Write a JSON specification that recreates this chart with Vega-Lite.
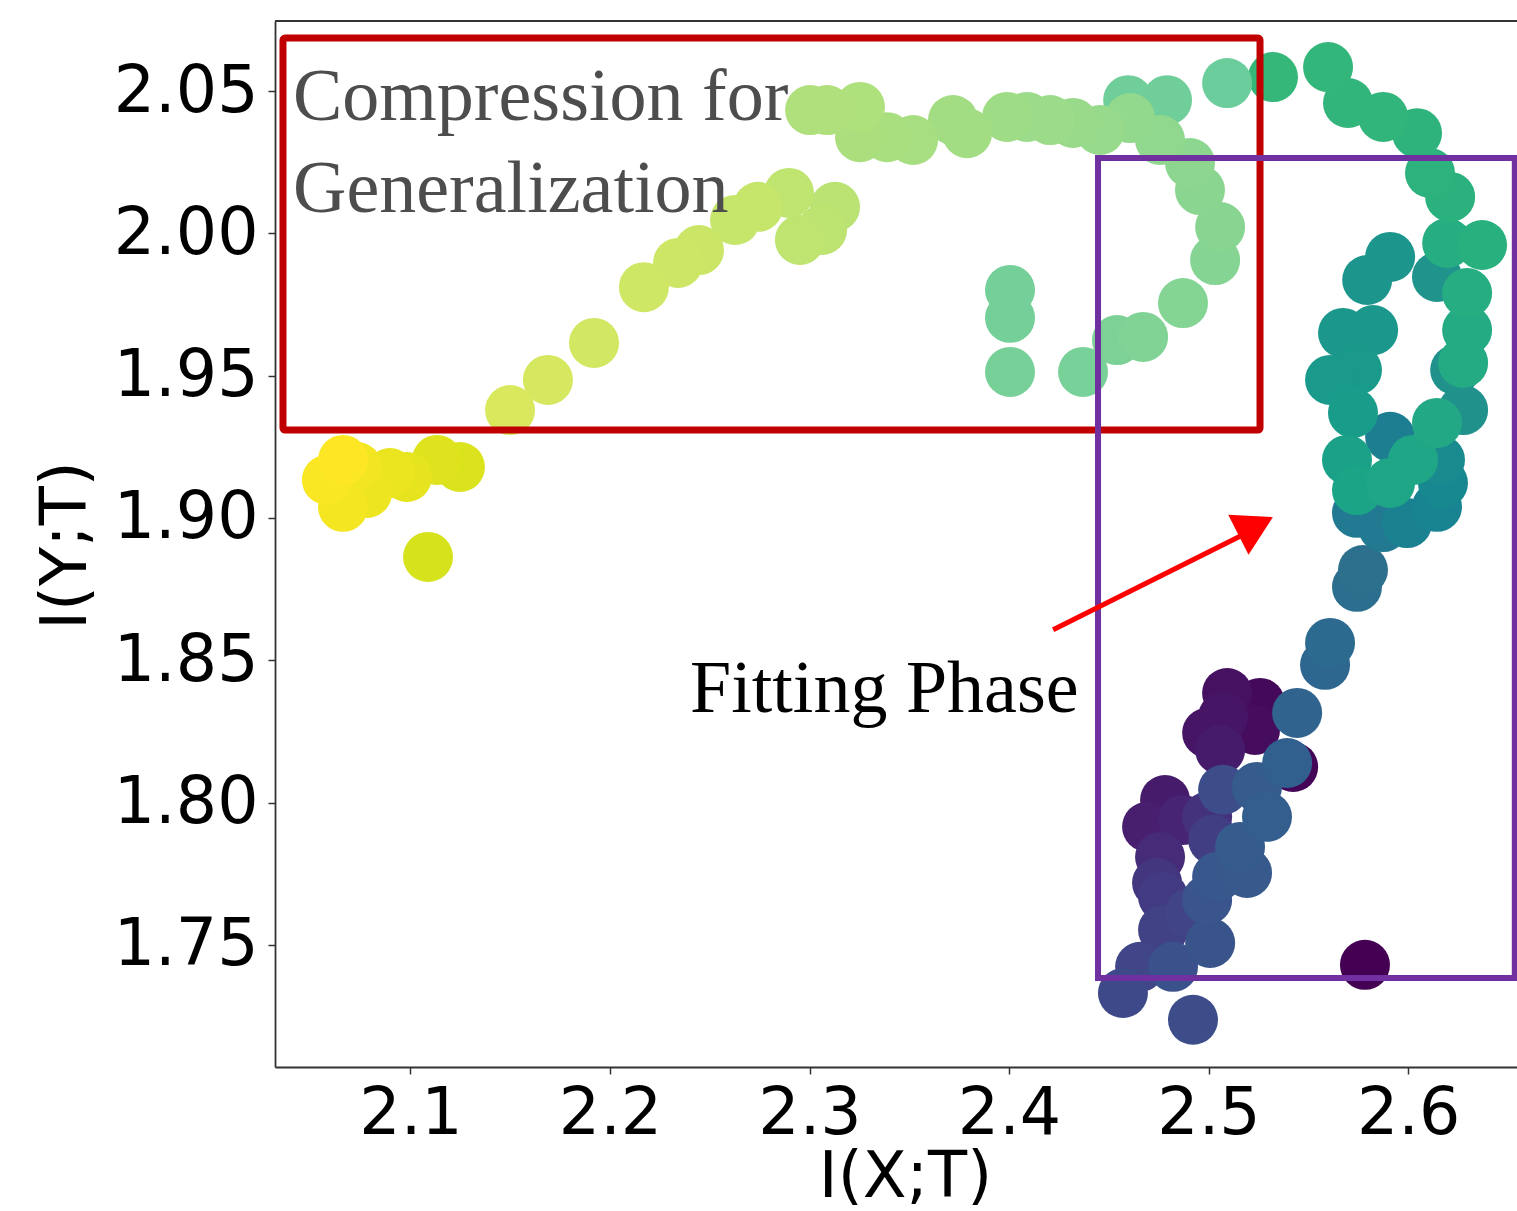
{
  "$schema": "https://vega.github.io/schema/vega-lite/v6.json",
  "width": 1242,
  "height": 1046,
  "autosize": "none",
  "padding": {"left": 275, "top": 21, "right": 0, "bottom": 144},
  "background": "white",
  "config": {
    "view": {"stroke": null},
    "axis": {
      "grid": false,
      "labelFont": "DejaVu Sans",
      "labelFontSize": 65,
      "labelColor": "#000000",
      "titleFont": "DejaVu Sans",
      "titleFontSize": 64,
      "titleFontWeight": "normal",
      "titleColor": "#000000",
      "domainColor": "#333333",
      "domainWidth": 1.8,
      "tickColor": "#333333",
      "tickWidth": 1.5,
      "tickSize": 7
    }
  },
  "layer": [
    {
      "data": {"values": [
        {"x": 2.5784, "y": 1.7430, "t": 0.00},
        {"x": 2.5424, "y": 1.8125, "t": 0.01},
        {"x": 2.5258, "y": 1.8350, "t": 0.02},
        {"x": 2.5233, "y": 1.8255, "t": 0.03},
        {"x": 2.5093, "y": 1.8385, "t": 0.04},
        {"x": 2.5073, "y": 1.8301, "t": 0.05},
        {"x": 2.4993, "y": 1.8245, "t": 0.05},
        {"x": 2.5058, "y": 1.8185, "t": 0.07},
        {"x": 2.4782, "y": 1.8009, "t": 0.07},
        {"x": 2.4692, "y": 1.7915, "t": 0.08},
        {"x": 2.4872, "y": 1.7939, "t": 0.10},
        {"x": 2.4757, "y": 1.7809, "t": 0.12},
        {"x": 2.4993, "y": 1.7950, "t": 0.14},
        {"x": 2.4742, "y": 1.7718, "t": 0.15},
        {"x": 2.4772, "y": 1.7669, "t": 0.17},
        {"x": 2.5023, "y": 1.7869, "t": 0.18},
        {"x": 2.4772, "y": 1.7553, "t": 0.19},
        {"x": 2.4907, "y": 1.7613, "t": 0.20},
        {"x": 2.4657, "y": 1.7423, "t": 0.21},
        {"x": 2.4571, "y": 1.7331, "t": 0.22},
        {"x": 2.4922, "y": 1.7237, "t": 0.24},
        {"x": 2.5073, "y": 1.8045, "t": 0.24},
        {"x": 2.4822, "y": 1.7423, "t": 0.26},
        {"x": 2.5008, "y": 1.7507, "t": 0.27},
        {"x": 2.4993, "y": 1.7658, "t": 0.28},
        {"x": 2.5043, "y": 1.7739, "t": 0.29},
        {"x": 2.5193, "y": 1.7753, "t": 0.30},
        {"x": 2.5158, "y": 1.7844, "t": 0.31},
        {"x": 2.5243, "y": 1.8055, "t": 0.31},
        {"x": 2.5293, "y": 1.7950, "t": 0.32},
        {"x": 2.5394, "y": 1.8139, "t": 0.33},
        {"x": 2.5444, "y": 1.8315, "t": 0.34},
        {"x": 2.5584, "y": 1.8484, "t": 0.36},
        {"x": 2.5609, "y": 1.8561, "t": 0.37},
        {"x": 2.5744, "y": 1.8758, "t": 0.39},
        {"x": 2.5774, "y": 1.8817, "t": 0.40},
        {"x": 2.5744, "y": 1.9018, "t": 0.43},
        {"x": 2.5875, "y": 1.8968, "t": 0.43},
        {"x": 2.5910, "y": 1.9285, "t": 0.44},
        {"x": 2.5995, "y": 1.8982, "t": 0.45},
        {"x": 2.6145, "y": 1.9039, "t": 0.46},
        {"x": 2.6175, "y": 1.9123, "t": 0.47},
        {"x": 2.6160, "y": 1.9204, "t": 0.48},
        {"x": 2.6276, "y": 1.9379, "t": 0.50},
        {"x": 2.6236, "y": 1.9520, "t": 0.50},
        {"x": 2.6145, "y": 1.9847, "t": 0.51},
        {"x": 2.5910, "y": 1.9917, "t": 0.52},
        {"x": 2.5795, "y": 1.9836, "t": 0.52},
        {"x": 2.5674, "y": 1.9650, "t": 0.53},
        {"x": 2.5825, "y": 1.9660, "t": 0.53},
        {"x": 2.5744, "y": 1.9520, "t": 0.54},
        {"x": 2.5609, "y": 1.9485, "t": 0.54},
        {"x": 2.5724, "y": 1.9369, "t": 0.55},
        {"x": 2.5694, "y": 1.9204, "t": 0.57},
        {"x": 2.5744, "y": 1.9098, "t": 0.58},
        {"x": 2.5910, "y": 1.9123, "t": 0.59},
        {"x": 2.6025, "y": 1.9204, "t": 0.59},
        {"x": 2.6145, "y": 1.9334, "t": 0.60},
        {"x": 2.6276, "y": 1.9545, "t": 0.61},
        {"x": 2.6296, "y": 1.9660, "t": 0.61},
        {"x": 2.6296, "y": 1.9790, "t": 0.62},
        {"x": 2.6196, "y": 1.9966, "t": 0.62},
        {"x": 2.6371, "y": 1.9959, "t": 0.63},
        {"x": 2.6211, "y": 2.0128, "t": 0.635},
        {"x": 2.6110, "y": 2.0212, "t": 0.64},
        {"x": 2.6045, "y": 2.0352, "t": 0.645},
        {"x": 2.5875, "y": 2.0409, "t": 0.65},
        {"x": 2.5699, "y": 2.0458, "t": 0.652},
        {"x": 2.5599, "y": 2.0584, "t": 0.655},
        {"x": 2.5323, "y": 2.0549, "t": 0.66},
        {"x": 2.5093, "y": 2.0528, "t": 0.68},
        {"x": 2.4792, "y": 2.0468, "t": 0.69},
        {"x": 2.4597, "y": 2.0468, "t": 0.69},
        {"x": 2.4005, "y": 1.9801, "t": 0.70},
        {"x": 2.4005, "y": 1.9703, "t": 0.70},
        {"x": 2.4005, "y": 1.9513, "t": 0.705},
        {"x": 2.4371, "y": 1.9513, "t": 0.71},
        {"x": 2.4541, "y": 1.9625, "t": 0.72},
        {"x": 2.4672, "y": 1.9636, "t": 0.73},
        {"x": 2.4872, "y": 1.9755, "t": 0.74},
        {"x": 2.5033, "y": 1.9906, "t": 0.745},
        {"x": 2.5058, "y": 2.0022, "t": 0.75},
        {"x": 2.4957, "y": 2.0152, "t": 0.755},
        {"x": 2.4907, "y": 2.0247, "t": 0.76},
        {"x": 2.4757, "y": 2.0328, "t": 0.77},
        {"x": 2.4607, "y": 2.0405, "t": 0.78},
        {"x": 2.4456, "y": 2.0363, "t": 0.79},
        {"x": 2.4321, "y": 2.0388, "t": 0.795},
        {"x": 2.4206, "y": 2.0398, "t": 0.80},
        {"x": 2.4090, "y": 2.0409, "t": 0.80},
        {"x": 2.3990, "y": 2.0409, "t": 0.81},
        {"x": 2.3790, "y": 2.0352, "t": 0.82},
        {"x": 2.3719, "y": 2.0398, "t": 0.82},
        {"x": 2.3519, "y": 2.0328, "t": 0.83},
        {"x": 2.3389, "y": 2.0338, "t": 0.835},
        {"x": 2.3253, "y": 2.0338, "t": 0.84},
        {"x": 2.3253, "y": 2.0444, "t": 0.845},
        {"x": 2.3088, "y": 2.0433, "t": 0.85},
        {"x": 2.3003, "y": 2.0433, "t": 0.85},
        {"x": 2.3128, "y": 2.0093, "t": 0.87},
        {"x": 2.3063, "y": 2.0012, "t": 0.875},
        {"x": 2.2952, "y": 1.9977, "t": 0.88},
        {"x": 2.2897, "y": 2.0142, "t": 0.88},
        {"x": 2.2742, "y": 2.0093, "t": 0.89},
        {"x": 2.2627, "y": 2.0047, "t": 0.89},
        {"x": 2.2446, "y": 1.9941, "t": 0.90},
        {"x": 2.2341, "y": 1.9896, "t": 0.905},
        {"x": 2.2170, "y": 1.9811, "t": 0.91},
        {"x": 2.1920, "y": 1.9615, "t": 0.92},
        {"x": 2.1689, "y": 1.9485, "t": 0.93},
        {"x": 2.1499, "y": 1.9379, "t": 0.94},
        {"x": 2.1088, "y": 1.8863, "t": 0.95},
        {"x": 2.1248, "y": 1.9179, "t": 0.955},
        {"x": 2.1133, "y": 1.9204, "t": 0.96},
        {"x": 2.0982, "y": 1.9144, "t": 0.97},
        {"x": 2.0897, "y": 1.9158, "t": 0.975},
        {"x": 2.0782, "y": 1.9088, "t": 0.98},
        {"x": 2.0732, "y": 1.9179, "t": 0.985},
        {"x": 2.0662, "y": 1.9039, "t": 0.99},
        {"x": 2.0581, "y": 1.9134, "t": 0.995},
        {"x": 2.0662, "y": 1.9204, "t": 1.0}
      ]},
      "mark": {"type": "circle", "size": 2500, "opacity": 1, "strokeWidth": 0},
      "encoding": {
        "x": {"field": "x", "type": "quantitative",
              "scale": {"domain": [2.0321, 2.6546], "nice": false, "zero": false},
              "axis": {"values": [2.1, 2.2, 2.3, 2.4, 2.5, 2.6], "format": ".1f", "title": "I(X;T)",
                       "labelBaseline": "alphabetic", "labelPadding": 59, "labelFlush": false,
                       "titleX": 630, "titleY": 129, "titleBaseline": "alphabetic", "titleAlign": "center"}},
        "y": {"field": "y", "type": "quantitative",
              "scale": {"domain": [1.7071, 2.0746], "nice": false, "zero": false},
              "axis": {"values": [1.75, 1.8, 1.85, 1.9, 1.95, 2.0, 2.05], "format": ".2f", "title": "I(Y;T)",
                       "labelPadding": 10, "labelFlush": false,
                       "titleX": -209, "titleY": 524, "titleAngle": -90, "titleBaseline": "middle", "titleAlign": "center"}},
        "color": {"field": "t", "type": "quantitative", "legend": null,
                  "scale": {"domain": [0, 0.1, 0.2, 0.3, 0.4, 0.5, 0.6, 0.66, 0.68, 0.75, 0.8, 0.85, 0.9, 0.94, 0.95, 1],
                            "range": ["#440154", "#482475", "#414487", "#38598c", "#2d708e", "#21918c", "#22a884", "#35b779", "#6ccd9c", "#88d592", "#9bdb89", "#b0e07b", "#cbe667", "#d9e85c", "#d6e21c", "#fde725"]}},
        "order": {"field": "t", "type": "quantitative"}
      }
    },
    {
      "data": {"values": [{"y": 2.0746}]},
      "mark": {"type": "rule", "color": "#333333", "strokeWidth": 1.8},
      "encoding": {
        "y": {"field": "y", "type": "quantitative", "scale": {"domain": [1.7071, 2.0746], "nice": false, "zero": false}}
      }
    },
    {
      "data": {"values": [{"x": 2.0361, "x2": 2.5258, "y": 2.0686, "y2": 1.9309}]},
      "mark": {"type": "rect", "fill": null, "fillOpacity": 0, "stroke": "#c00000", "strokeWidth": 7, "cornerRadius": 2},
      "encoding": {
        "x": {"field": "x", "type": "quantitative", "scale": {"domain": [2.0321, 2.6546], "nice": false, "zero": false}},
        "x2": {"field": "x2"},
        "y": {"field": "y", "type": "quantitative", "scale": {"domain": [1.7071, 2.0746], "nice": false, "zero": false}},
        "y2": {"field": "y2"}
      }
    },
    {
      "data": {"values": [{"x": 2.4446, "x2": 2.6535, "y": 2.0265, "y2": 1.7384}]},
      "mark": {"type": "rect", "fill": null, "fillOpacity": 0, "stroke": "#7030a0", "strokeWidth": 6},
      "encoding": {
        "x": {"field": "x", "type": "quantitative", "scale": {"domain": [2.0321, 2.6546], "nice": false, "zero": false}},
        "x2": {"field": "x2"},
        "y": {"field": "y", "type": "quantitative", "scale": {"domain": [1.7071, 2.0746], "nice": false, "zero": false}},
        "y2": {"field": "y2"}
      }
    },
    {
      "data": {"values": [{"x": 2.4221, "y": 1.8607, "x2": 2.5193, "y2": 1.8948}]},
      "mark": {"type": "rule", "color": "#ff0000", "strokeWidth": 5},
      "encoding": {
        "x": {"field": "x", "type": "quantitative", "scale": {"domain": [2.0321, 2.6546], "nice": false, "zero": false}},
        "x2": {"field": "x2"},
        "y": {"field": "y", "type": "quantitative", "scale": {"domain": [1.7071, 2.0746], "nice": false, "zero": false}},
        "y2": {"field": "y2"}
      }
    },
    {
      "data": {"values": [{"x": 2.5236, "y": 1.8972}]},
      "mark": {"type": "point", "shape": "triangle-up", "filled": true, "color": "#ff0000", "size": 2000, "angle": 63, "opacity": 1},
      "encoding": {
        "x": {"field": "x", "type": "quantitative", "scale": {"domain": [2.0321, 2.6546], "nice": false, "zero": false}},
        "y": {"field": "y", "type": "quantitative", "scale": {"domain": [1.7071, 2.0746], "nice": false, "zero": false}}
      }
    },
    {
      "data": {"values": [
        {"x": 2.0411, "y": 2.0398, "label": "Compression for"},
        {"x": 2.0411, "y": 2.0075, "label": "Generalization"}
      ]},
      "mark": {"type": "text", "font": "Liberation Serif", "fontSize": 74, "color": "#4d4d4d", "align": "left", "baseline": "alphabetic"},
      "encoding": {
        "x": {"field": "x", "type": "quantitative", "scale": {"domain": [2.0321, 2.6546], "nice": false, "zero": false}},
        "y": {"field": "y", "type": "quantitative", "scale": {"domain": [1.7071, 2.0746], "nice": false, "zero": false}},
        "text": {"field": "label"}
      }
    },
    {
      "data": {"values": [{"x": 2.2401, "y": 1.8319, "label": "Fitting Phase"}]},
      "mark": {"type": "text", "font": "Liberation Serif", "fontSize": 74, "color": "#000000", "align": "left", "baseline": "alphabetic"},
      "encoding": {
        "x": {"field": "x", "type": "quantitative", "scale": {"domain": [2.0321, 2.6546], "nice": false, "zero": false}},
        "y": {"field": "y", "type": "quantitative", "scale": {"domain": [1.7071, 2.0746], "nice": false, "zero": false}},
        "text": {"field": "label"}
      }
    }
  ]
}
